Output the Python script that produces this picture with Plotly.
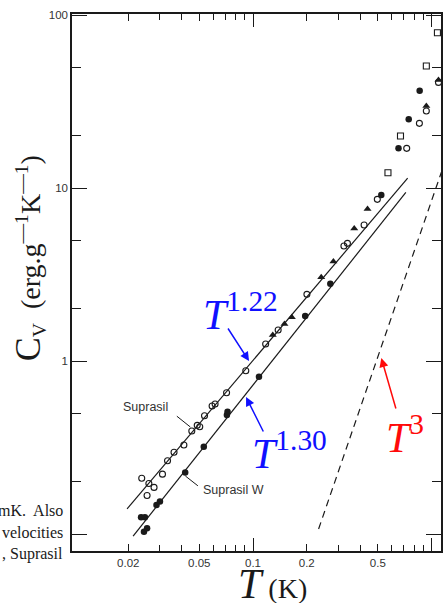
import plotly.graph_objects as go

# ---------------- data ----------------
# Suprasil: open circles
sup_T = [0.0238, 0.0261, 0.0279, 0.0255, 0.0311, 0.0332, 0.0361, 0.0410, 0.0454,
         0.0487, 0.0503, 0.0535, 0.0590, 0.0613, 0.0711, 0.0911, 0.1177, 0.1383,
         0.2004, 0.323, 0.338, 0.419, 0.497, 0.726, 0.855, 0.935, 1.094]
sup_C = [0.210, 0.196, 0.186, 0.167, 0.222, 0.265, 0.297, 0.327, 0.394,
         0.425, 0.417, 0.483, 0.550, 0.564, 0.656, 0.879, 1.254, 1.511,
         2.43, 4.62, 4.79, 6.11, 8.60, 16.96, 23.66, 27.9, 40.8]

# Suprasil W: filled circles
supw_T = [0.0236, 0.0248, 0.0245, 0.0255, 0.0288, 0.0301, 0.0417, 0.0530, 0.0714,
          0.0720, 0.108, 0.196, 0.271, 0.523, 0.653, 0.745, 0.858]
supw_C = [0.125, 0.125, 0.103, 0.108, 0.147, 0.154, 0.227, 0.320, 0.488,
          0.509, 0.811, 1.82, 2.80, 9.11, 16.96, 24.95, 36.5]

# other sample: filled triangles
tri_T = [0.129, 0.150, 0.165, 0.241, 0.282, 0.369, 0.438, 0.935, 1.094]
tri_C = [1.413, 1.636, 1.789, 3.05, 3.76, 5.83, 7.56, 29.8, 42.1]

# other sample: open squares
sq_T = [0.570, 0.670, 0.935, 1.079]
sq_C = [12.25, 19.98, 50.7, 79.0]

# fitted power laws (end points)
fit122_T = [0.0197, 0.735]
fit122_C = [0.140, 11.4]
fit130_T = [0.0213, 0.718]
fit130_C = [0.0973, 9.43]
t3_T = [0.233, 1.137]
t3_C = [0.107, 12.4]

# axis ticks
x_lab_vals = [0.02, 0.05, 0.1, 0.2, 0.5]
x_lab_text = ["0.02", "0.05", "0.1", "0.2", "0.5"]
x_minor_vals = [0.03, 0.04, 0.06, 0.07, 0.08, 0.09, 0.3, 0.4, 0.6, 0.7, 0.8, 0.9]
x_decade_vals = [0.1, 1]
y_major_vals = [0.1, 1, 10, 100]
y_major_text = ["", "1", "10", "100"]
y_minor_vals = [0.2, 0.5, 2, 5, 20, 50]

# ---------------- geometry ----------------
W, H = 443, 603
ML, MR, MT, MB = 72, 0, 14, 52
PW, PH = W - ML - MR, H - MT - MB


def P(px, py):
    return (px - ML) / PW, (H - MB - py) / PH


SERIF = "Liberation Serif, Times New Roman, serif"
SANS = "Liberation Sans, Arial, sans-serif"
INK = "#1a1a1a"

fig = go.Figure()

fig.add_trace(go.Scatter(x=fit122_T, y=fit122_C, mode="lines",
                         line=dict(color=INK, width=1.2), hoverinfo="skip"))
fig.add_trace(go.Scatter(x=fit130_T, y=fit130_C, mode="lines",
                         line=dict(color=INK, width=1.2), hoverinfo="skip"))
fig.add_trace(go.Scatter(x=t3_T, y=t3_C, mode="lines",
                         line=dict(color=INK, width=1.2, dash="7px,5px"), hoverinfo="skip"))

fig.add_trace(go.Scatter(x=sup_T, y=sup_C, mode="markers",
                         marker=dict(symbol="circle-open", size=6, color=INK,
                                     line=dict(width=1.1, color=INK))))
fig.add_trace(go.Scatter(x=supw_T, y=supw_C, mode="markers",
                         marker=dict(symbol="circle", size=6.5, color=INK)))
fig.add_trace(go.Scatter(x=tri_T, y=tri_C, mode="markers",
                         marker=dict(symbol="triangle-up", size=7, color=INK)))
fig.add_trace(go.Scatter(x=sq_T, y=sq_C, mode="markers",
                         marker=dict(symbol="square-open", size=6, color=INK,
                                     line=dict(width=1.1, color=INK))))
# carrier for the long decade ticks axis
fig.add_trace(go.Scatter(x=fit122_T, y=fit122_C, mode="lines", xaxis="x2",
                         line=dict(color="rgba(0,0,0,0)", width=0), hoverinfo="skip"))

xr = [-2.014, 0.053]
yr = [-1.098, 2.006]

fig.update_layout(
    width=W, height=H,
    margin=dict(l=ML, r=MR, t=MT, b=MB),
    paper_bgcolor="white", plot_bgcolor="white",
    showlegend=False,
    xaxis=dict(type="log", range=xr, showline=True, linecolor=INK, linewidth=1.5,
               mirror="ticks", ticks="inside", ticklen=7, tickwidth=1, tickcolor=INK,
               tickvals=x_lab_vals, ticktext=x_lab_text, showgrid=False, zeroline=False,
               tickfont=dict(family=SANS, size=11.5, color="#333"),
               minor=dict(tickvals=x_minor_vals, ticks="inside", ticklen=6,
                          tickwidth=1, tickcolor=INK, showgrid=False)),
    xaxis2=dict(type="log", range=xr, overlaying="x", side="bottom", showline=False,
                mirror="ticks", ticks="inside", ticklen=13, tickwidth=1.2, tickcolor=INK,
                tickvals=x_decade_vals, showticklabels=False, showgrid=False,
                zeroline=False),
    yaxis=dict(type="log", range=yr, showline=True, linecolor=INK, linewidth=1.5,
               mirror="ticks", ticks="inside", ticklen=15, tickwidth=1.2, tickcolor=INK,
               tickvals=y_major_vals, ticktext=y_major_text, showgrid=False,
               zeroline=False, tickfont=dict(family=SANS, size=11.5, color="#333"),
               minor=dict(tickvals=y_minor_vals, ticks="inside", ticklen=9,
                          tickwidth=1, tickcolor=INK, showgrid=False)),
)

ann = []


def text(px, py, s, size, color, family=SERIF, xanchor="center", yanchor="middle", angle=0):
    x, y = P(px, py)
    ann.append(dict(x=x, y=y, xref="paper", yref="paper", text=s, showarrow=False,
                    xanchor=xanchor, yanchor=yanchor, textangle=angle,
                    font=dict(family=family, size=size, color=color)))


def arrow(hx, hy, tx, ty, color, head=2, width=1.5, size=1.2):
    x, y = P(hx, hy)
    ann.append(dict(x=x, y=y, xref="paper", yref="paper", text="", showarrow=True,
                    ax=tx - hx, ay=ty - hy, arrowhead=head, arrowsize=size,
                    arrowwidth=width, arrowcolor=color, standoff=0, startstandoff=0))


BLUE = "#1010ff"
RED = "#ff0a0a"

text(241, 311, "<i>T</i><sup>1.22</sup>", 42, BLUE)
arrow(250, 361, 228, 327, BLUE)
text(291, 450, "<i>T</i><sup>1.30</sup>", 42, BLUE)
arrow(247, 397, 265, 433, BLUE)
text(407, 434, "<i>T</i><sup>3</sup>", 42, RED)
arrow(383, 358, 398, 410, RED)

text(146, 407, "Suprasil", 12.5, "#333", family=SANS)
arrow(191, 427, 176, 415, INK, head=0, width=1)
text(234, 490, "Suprasil W", 12.5, "#333", family=SANS)
arrow(186, 476, 200, 487, INK, head=0, width=1)

text(65, 510, "mK.  Also", 16, INK, xanchor="right")
text(65, 532, "velocities", 16, INK, xanchor="right")
text(65, 554, ", Suprasil", 16, INK, xanchor="right")

text(274, 584, '<i>T</i><span style="font-size:28px"> (K)</span>', 42, INK)
text(29, 258, '<span style="font-size:36px">C</span><sub>V</sub>  (erg.g<sup>—1</sup>K<sup>—1</sup>)',
     28, INK, angle=-90)

fig.update_layout(annotations=ann)

fig.write_html("out.html", config={"displayModeBar": False},
               post_script="document.body.style.margin='0';document.body.style.overflow='hidden';")
